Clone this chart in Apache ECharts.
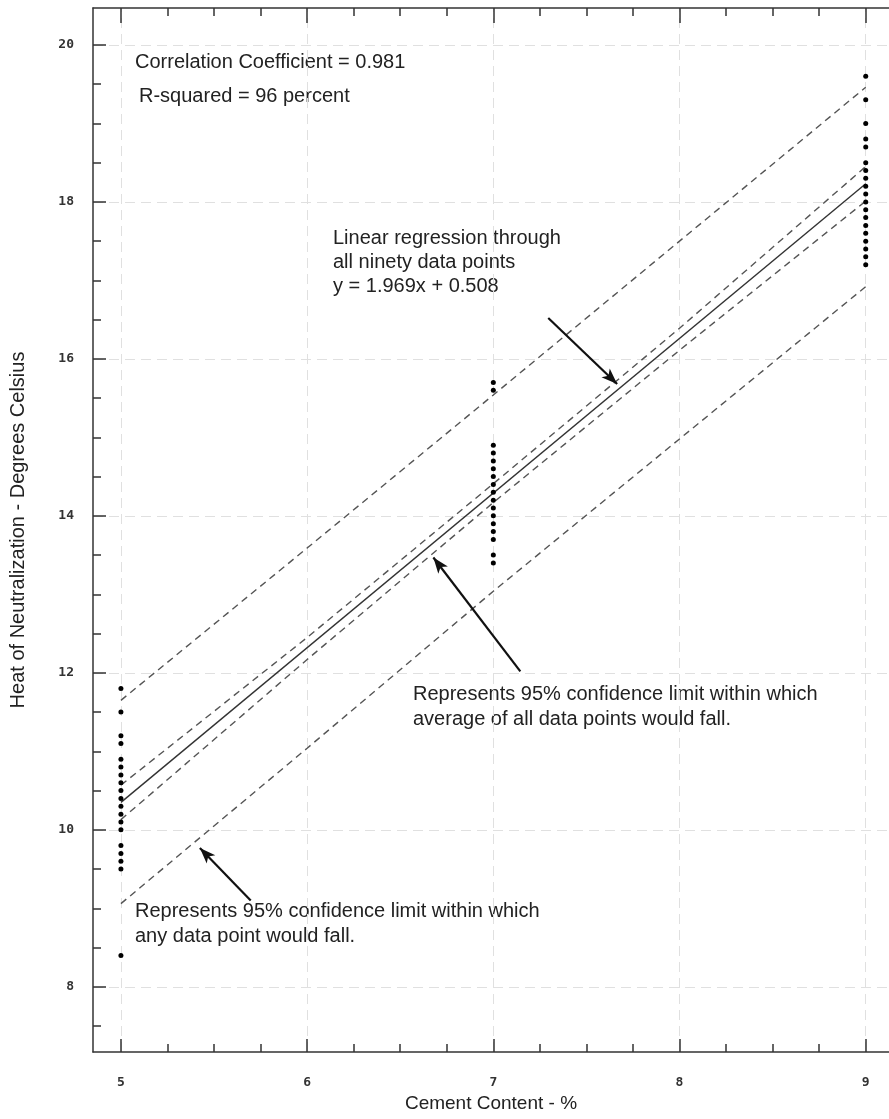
<!DOCTYPE html>
<html><head><meta charset="utf-8">
<script src="https://cdn.jsdelivr.net/npm/echarts@6/dist/echarts.min.js"></script>
<style>html,body{margin:0;padding:0;background:#fff}#c{width:889px;height:1119px}</style>
</head><body><div id="c"></div>
<script>
// ---- data ----
const xTickLabels = [5, 6, 7, 8, 9];
const xMinorTicks = [5.25, 5.5, 5.75, 6.25, 6.5, 6.75, 7.25, 7.5, 7.75, 8.25, 8.5, 8.75];
const yTickLabels = [8, 10, 12, 14, 16, 18, 20];
const yMinorTicks = [7.5, 8.5, 9, 9.5, 10.5, 11, 11.5, 12.5, 13, 13.5, 14.5, 15, 15.5, 16.5, 17, 17.5, 18.5, 19, 19.5];
const gridX = [5, 6, 7, 8, 9];
const gridY = [8, 10, 12, 14, 16, 18, 20];

const cement5Heat = [11.8, 11.5, 11.2, 11.1, 10.9, 10.8, 10.7, 10.6, 10.5, 10.4, 10.3, 10.2, 10.1, 10.0, 9.8, 9.7, 9.6, 9.5, 8.4];
const cement7Heat = [15.7, 15.6, 14.9, 14.8, 14.7, 14.6, 14.5, 14.4, 14.3, 14.2, 14.1, 14.0, 13.9, 13.8, 13.7, 13.5, 13.4];
const cement9Heat = [19.6, 19.3, 19.0, 18.8, 18.7, 18.5, 18.4, 18.3, 18.2, 18.1, 18.0, 17.9, 17.8, 17.7, 17.6, 17.5, 17.4, 17.3, 17.2];

const regX = [5, 9];
const regY = [10.35, 18.23];

const bandX = [5, 6, 7, 8, 9];
const meanUpper = [10.57, 12.45, 14.41, 16.39, 18.45];
const meanLower = [10.13, 12.17, 14.17, 16.11, 18.01];
const predUpper = [11.65, 13.59, 15.54, 17.50, 19.46];
const predLower = [9.06, 11.04, 13.04, 14.98, 16.92];

// arrows: [tailX, tailY, headX, headY]
const arrowRegression = [7.295, 16.52, 7.665, 15.68];
const arrowMean = [7.145, 12.02, 6.678, 13.47];
const arrowPred = [5.697, 9.10, 5.424, 9.77];

// ---- chart ----
const chart = echarts.init(document.getElementById('c'));
const tickFont = { fontFamily: 'DejaVu Sans Mono', fontWeight: 'bold', fontSize: 13, color: '#333' };
const textFont = '20px "Liberation Sans"';
const axisLineStyle = { color: '#333', width: 1.5 };
const xMin = 4.85, xMax = 9.125, yMin = 7.17, yMax = 20.47;

function pairs(x, arr) { return arr.map(v => [x, v]); }
function zip(xs, ys) { return xs.map((x, i) => [x, ys[i]]); }
function arrow(a) { return [{ coord: [a[0], a[1]] }, { coord: [a[2], a[3]] }]; }

const dashStyle = { color: '#555', width: 1.4, type: [7, 5] };

const option = {
  animation: false,
  backgroundColor: '#fff',
  grid: { left: 92, right: 0, top: 8, bottom: 67 },
  xAxis: [
    { type: 'value', position: 'bottom', min: xMin, max: xMax,
      axisLine: { show: true, lineStyle: axisLineStyle },
      axisTick: { show: true, inside: true, length: 13, customValues: xTickLabels, lineStyle: axisLineStyle },
      axisLabel: { show: true, customValues: xTickLabels, margin: 24, ...tickFont },
      splitLine: { show: false },
      name: 'Cement Content - %', nameLocation: 'middle', nameGap: 37,
      nameTextStyle: { fontFamily: 'Liberation Sans', fontSize: 19, color: '#222' } },
    { type: 'value', position: 'bottom', min: xMin, max: xMax,
      axisLine: { show: false },
      axisTick: { show: true, inside: true, length: 8, customValues: xMinorTicks, lineStyle: axisLineStyle },
      axisLabel: { show: false }, splitLine: { show: false } },
    { type: 'value', position: 'top', min: xMin, max: xMax,
      axisLine: { show: true, lineStyle: axisLineStyle },
      axisTick: { show: true, inside: true, length: 15, customValues: xTickLabels, lineStyle: axisLineStyle },
      axisLabel: { show: false }, splitLine: { show: false } },
    { type: 'value', position: 'top', min: xMin, max: xMax,
      axisLine: { show: false },
      axisTick: { show: true, inside: true, length: 8, customValues: xMinorTicks, lineStyle: axisLineStyle },
      axisLabel: { show: false }, splitLine: { show: false } }
  ],
  yAxis: [
    { type: 'value', position: 'left', min: yMin, max: yMax,
      axisLine: { show: true, lineStyle: axisLineStyle },
      axisTick: { show: true, inside: true, length: 13, customValues: yTickLabels, lineStyle: axisLineStyle },
      axisLabel: { show: true, customValues: yTickLabels, margin: 19, ...tickFont },
      splitLine: { show: false },
      name: 'Heat of Neutralization - Degrees Celsius', nameLocation: 'middle', nameGap: 65,
      nameTextStyle: { fontFamily: 'Liberation Sans', fontSize: 20, color: '#222' } },
    { type: 'value', position: 'left', min: yMin, max: yMax,
      axisLine: { show: false },
      axisTick: { show: true, inside: true, length: 8, customValues: yMinorTicks, lineStyle: axisLineStyle },
      axisLabel: { show: false }, splitLine: { show: false } }
  ],
  series: [
    { type: 'line', data: [], silent: true, z: 0,
      markLine: { silent: true, z: 0, symbol: ['none', 'none'], label: { show: false },
        lineStyle: { color: '#e0e0e0', width: 1, type: [10, 6] },
        data: gridX.map(v => ({ xAxis: v })).concat(gridY.map(v => ({ yAxis: v }))) } },
    { type: 'line', name: 'pred upper', z: 3, data: zip(bandX, predUpper), showSymbol: false, lineStyle: dashStyle },
    { type: 'line', name: 'pred lower', z: 3, data: zip(bandX, predLower), showSymbol: false, lineStyle: dashStyle },
    { type: 'line', name: 'mean upper', z: 3, data: zip(bandX, meanUpper), showSymbol: false, lineStyle: dashStyle },
    { type: 'line', name: 'mean lower', z: 3, data: zip(bandX, meanLower), showSymbol: false, lineStyle: dashStyle },
    { type: 'line', name: 'regression', z: 3, data: zip(regX, regY), showSymbol: false, lineStyle: { color: '#333', width: 1.4 } },
    { type: 'scatter', name: 'data', z: 6, data: pairs(5, cement5Heat).concat(pairs(7, cement7Heat), pairs(9, cement9Heat)),
      symbolSize: 5, itemStyle: { color: '#000', borderWidth: 0, opacity: 1 } },
    { type: 'line', data: [], silent: true, z: 7,
      markLine: { silent: true, z: 7, symbol: ['none', 'arrow'], symbolSize: [9, 16], label: { show: false },
        lineStyle: { color: '#111', width: 2.2, type: 'solid' },
        data: [arrow(arrowRegression), arrow(arrowMean), arrow(arrowPred)] } }
  ],
  graphic: [
    { type: 'text', x: 135, y: 62, style: { text: 'Correlation Coefficient = 0.981', font: textFont, fill: '#222', verticalAlign: 'middle' } },
    { type: 'text', x: 139, y: 96, style: { text: 'R-squared = 96 percent', font: textFont, fill: '#222', verticalAlign: 'middle' } },
    { type: 'text', x: 333, y: 238, style: { text: 'Linear regression through', font: textFont, fill: '#222', verticalAlign: 'middle' } },
    { type: 'text', x: 333, y: 262, style: { text: 'all ninety data points', font: textFont, fill: '#222', verticalAlign: 'middle' } },
    { type: 'text', x: 333, y: 286, style: { text: 'y = 1.969x + 0.508', font: textFont, fill: '#222', verticalAlign: 'middle' } },
    { type: 'text', x: 413, y: 694, style: { text: 'Represents 95% confidence limit within which', font: textFont, fill: '#222', verticalAlign: 'middle' } },
    { type: 'text', x: 413, y: 719, style: { text: 'average of all data points would fall.', font: textFont, fill: '#222', verticalAlign: 'middle' } },
    { type: 'text', x: 135, y: 911, style: { text: 'Represents 95% confidence limit within which', font: textFont, fill: '#222', verticalAlign: 'middle' } },
    { type: 'text', x: 135, y: 936, style: { text: 'any data point would fall.', font: textFont, fill: '#222', verticalAlign: 'middle' } }
  ]
};
chart.setOption(option);
</script>
</body></html>
